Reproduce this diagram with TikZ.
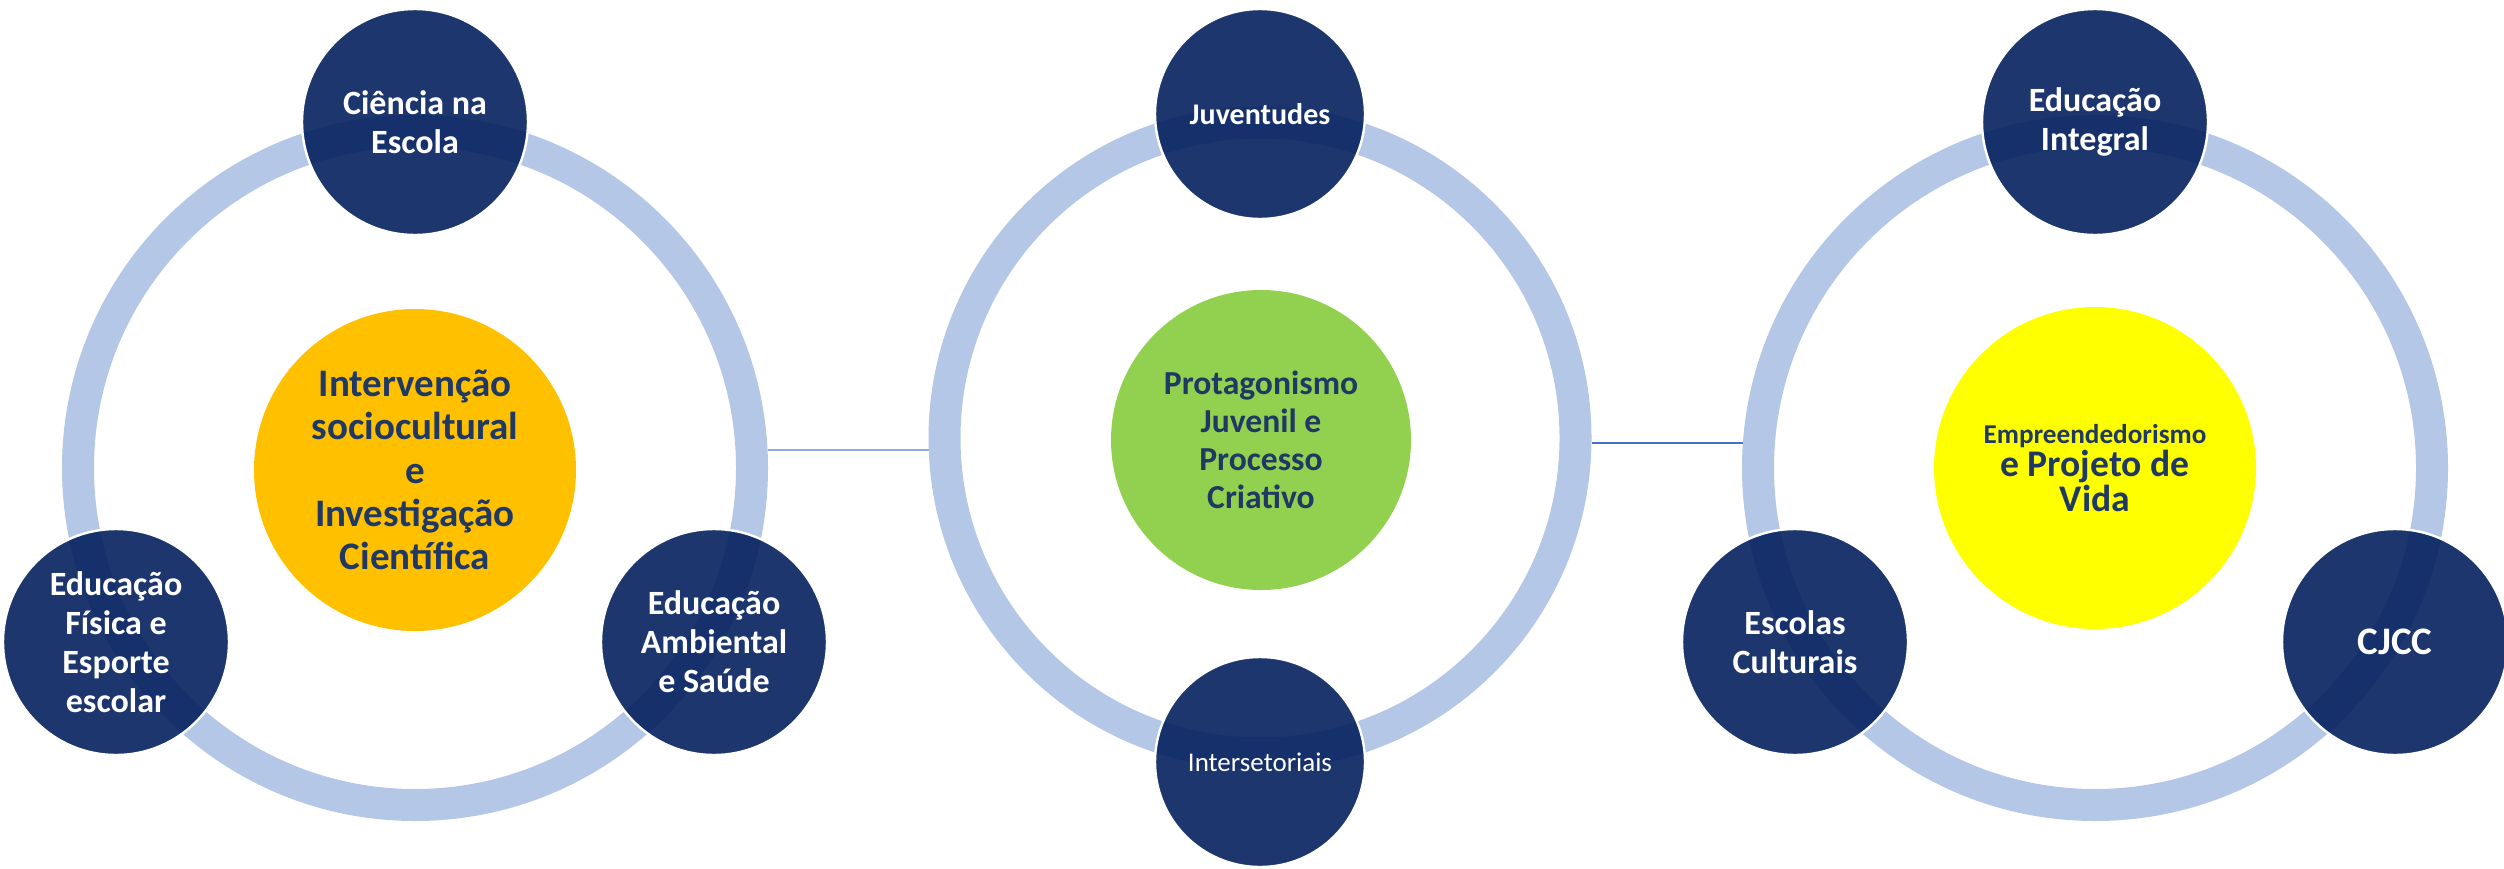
\documentclass[tikz,border=0pt]{standalone}
\usepackage{fontspec}
\setmainfont{Carlito}
\definecolor{ringc}{HTML}{B4C7E7}
\definecolor{satc}{HTML}{04205E}
\definecolor{navytxt}{HTML}{1F3864}
\definecolor{amber}{HTML}{FFC000}
\definecolor{lgreen}{HTML}{92D050}
\definecolor{brightyel}{HTML}{FFFF00}
\definecolor{linkA}{HTML}{8FAADC}
\definecolor{linkB}{HTML}{4472C4}
\tikzset{
  ringnode/.style={circle, draw=ringc, line width=16pt, inner sep=0pt, outer sep=8pt},
  satbig/.style={circle, fill=satc, fill opacity=0.9, text opacity=1, draw=white, draw opacity=1, line width=1.2pt, inner sep=0pt, minimum size=113pt, text=white, align=center, font=\fontsize{17}{19.5}\selectfont\bfseries},
  satsmall/.style={satbig, minimum size=105pt},
  hub/.style={circle, inner sep=0pt, text=navytxt, align=center},
  linkone/.style={draw=linkA, line width=1pt},
  linktwo/.style={draw=linkB, line width=1pt}
}
\begin{document}
\begin{tikzpicture}[x=0.5pt, y=-0.5pt]
\useasboundingbox (0,0) rectangle (2504,868);
% rings
\node[ringnode, minimum size=337pt] (ringL) at (415,468) {};
\node[ringnode, minimum size=315.5pt] (ringM) at (1260,438) {};
\node[ringnode, minimum size=337pt] (ringR) at (2095,468) {};
% connectors
\draw[linkone] (ringL.3.4) -- (ringL.3.4 -| ringM.west);
\draw[linktwo] (ringM.east |- ringR.176.26) -- (ringR.176.26);
% hubs
\node[hub, fill=amber, minimum size=161pt, font=\fontsize{19.5}{21.7}\selectfont\bfseries] (hubL) at (415,470)
  {Intervenção\\sociocultural\\e\\Investigação\\Científica};
\node[hub, fill=lgreen, minimum size=150pt, font=\fontsize{16.8}{19}\selectfont\bfseries] (hubM) at (1261,440)
  {Protagonismo\\Juvenil e\\Processo\\Criativo};
\node[hub, fill=brightyel, minimum size=161pt, font=\bfseries] (hubR) at (2095,468)
  {{\fontsize{13.6}{20.5}\selectfont Empreendedorismo}\\[0pt]{\fontsize{18.8}{20.5}\selectfont e Projeto de}\\{\fontsize{18.8}{20.5}\selectfont Vida}};
% satellites left
\node[satbig] (sL1) at (415,122) {Ciência na\\Escola};
\node[satbig] (sL2) at (116,642) {Educação\\Física e\\Esporte\\escolar};
\node[satbig] (sL3) at (714,642) {Educação\\Ambiental\\e Saúde};
% satellites middle
\node[satsmall, font=\fontsize{15}{19}\selectfont\bfseries] (sM1) at (1260,114) {Juventudes};
\node[satsmall, font=\fontsize{13.5}{19}\selectfont] (sM2) at (1260,762) {Intersetoriais};
% satellites right
\node[satbig] (sR1) at (2095,122) {Educação\\Integral};
\node[satbig] (sR2) at (1795,642) {Escolas\\Culturais};
\node[satbig, font=\fontsize{19.5}{21}\selectfont\bfseries] (sR3) at (2395,642) {CJCC};
\end{tikzpicture}
\end{document}
